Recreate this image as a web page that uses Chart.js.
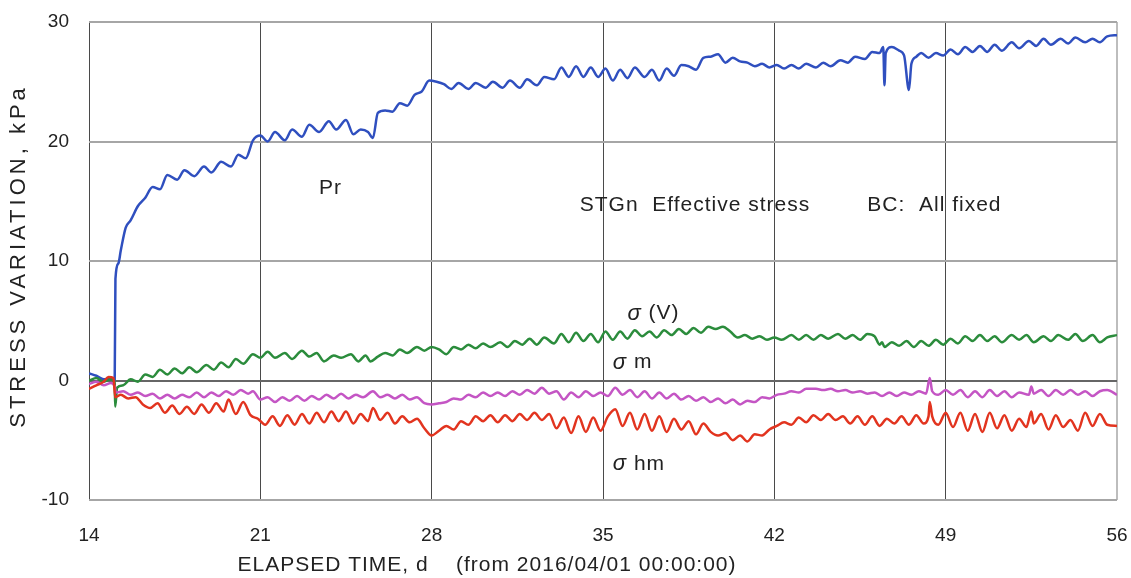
<!DOCTYPE html>
<html>
<head>
<meta charset="utf-8">
<script src="https://cdn.jsdelivr.net/npm/chart.js@4.4.0/dist/chart.umd.min.js"></script>
<style>
  html, body { margin: 0; padding: 0; background: #fff; }
</style>
</head>
<body>
<canvas id="stressChart" width="1131" height="578"></canvas>
<script>
// ---------------- DATA ----------------
// [elapsed day, kPa]
const pr = [[14,0.6],[14.3,0.4],[14.6,0.1],[14.9,0.2],[15.05,0.1],[15.08,8.5],[15.2,9.8],[15.3,10.9],[15.5,12.8],[15.7,13.4],
  [16.0,14.6],[16.3,15.3],[16.6,16.2],[16.9,16.0],[17.2,17.2],[17.6,16.8],[17.9,17.6],[18.3,17.1],[18.7,17.9],[19.0,17.4],
  [19.4,18.3],[19.8,17.9],[20.1,18.9],[20.4,18.6],[20.7,20.1],[21.0,20.5],[21.3,20.0],[21.6,20.8],[22.0,20.1],[22.3,21.0],
  [22.7,20.4],[23.0,21.4],[23.4,20.8],[23.8,21.7],[24.1,21.0],[24.5,21.8],[24.8,20.6],[25.1,21.0],[25.4,20.8],[25.6,20.3],
  [25.8,22.4],[26.1,22.6],[26.4,22.5],[26.7,23.2],[27.0,23.0],[27.3,23.9],[27.6,24.2],[27.9,25.1],[28.2,25.0],[28.5,24.8],
  [28.8,24.4],[29.1,24.9],[29.5,24.4],[29.8,24.9],[30.2,24.5],[30.5,25.0],[30.9,24.5],[31.2,25.1],[31.6,24.5],[31.9,25.2],
  [32.3,24.7],[32.6,25.4],[33.0,25.2],[33.3,26.2],[33.6,25.4],[33.9,26.3],[34.2,25.4],[34.5,26.2],[34.8,25.4],[35.1,26.1],
  [35.4,25.1],[35.7,26.0],[36.0,25.3],[36.3,26.2],[36.7,25.4],[37.0,26.0],[37.3,25.1],[37.6,26.1],[37.9,25.5],[38.2,26.4],
  [38.5,26.3],[38.8,26.0],[39.1,27.0],[39.4,27.1],[39.7,27.3],[40.0,26.6],[40.3,27.0],[40.6,26.7],[40.9,26.6],[41.2,26.3],
  [41.5,26.5],[41.8,26.2],[42.1,26.4],[42.4,26.1],[42.7,26.4],[43.0,26.1],[43.3,26.5],[43.7,26.2],[44.0,26.6],[44.3,26.3],
  [44.7,26.8],[45.0,26.6],[45.3,27.1],[45.7,26.9],[46.0,27.5],[46.3,27.4],[46.45,27.9],[46.5,24.7],[46.55,27.4],[46.8,27.9],
  [47.1,27.6],[47.3,27.2],[47.5,24.3],[47.6,26.5],[47.8,27.1],[48.0,27.4],[48.3,27.0],[48.6,27.4],[48.9,27.2],[49.2,27.7],
  [49.5,27.3],[49.8,27.9],[50.1,27.5],[50.4,28.0],[50.7,27.5],[51.0,28.1],[51.3,27.6],[51.7,28.3],[52.0,27.8],[52.4,28.4],
  [52.7,28.0],[53.0,28.6],[53.3,28.1],[53.7,28.6],[54.0,28.2],[54.3,28.7],[54.7,28.3],[55.0,28.6],[55.3,28.3],[55.6,28.8],[56.0,28.9]];

const sigV = [[14,0.0],[14.3,0.2],[14.6,-0.1],[14.9,0.1],[15.05,-0.2],[15.07,-2.2],[15.15,-0.6],[15.4,-0.4],[15.7,0.1],[16.0,-0.1],
  [16.3,0.5],[16.6,0.3],[16.9,0.9],[17.2,0.5],[17.5,1.0],[17.8,0.6],[18.1,1.1],[18.4,0.7],[18.8,1.3],[19.1,0.9],
  [19.4,1.5],[19.7,1.1],[20.0,1.8],[20.3,1.4],[20.7,2.2],[21.0,1.9],[21.3,2.4],[21.6,1.9],[22.0,2.3],[22.3,1.8],
  [22.7,2.5],[23.0,2.0],[23.3,2.3],[23.6,1.6],[24.0,2.1],[24.3,1.9],[24.7,2.2],[25.0,1.6],[25.3,2.1],[25.5,1.6],
  [25.8,2.0],[26.1,2.3],[26.4,2.1],[26.7,2.6],[27.0,2.3],[27.4,2.8],[27.7,2.5],[28.0,2.8],[28.3,2.6],[28.6,2.2],
  [28.9,2.8],[29.2,2.6],[29.5,3.0],[29.8,2.7],[30.1,3.1],[30.4,2.8],[30.8,3.2],[31.1,2.8],[31.4,3.3],[31.7,3.0],
  [32.0,3.5],[32.3,3.0],[32.6,3.6],[33.0,3.1],[33.3,3.9],[33.6,3.2],[33.9,4.0],[34.2,3.3],[34.5,3.9],[34.8,3.2],
  [35.1,4.1],[35.4,3.4],[35.7,4.1],[36.0,3.5],[36.3,4.2],[36.6,3.7],[36.9,4.1],[37.2,3.6],[37.5,4.2],[37.8,3.8],
  [38.1,4.3],[38.4,3.9],[38.7,4.4],[39.0,4.0],[39.3,4.5],[39.6,4.3],[39.9,4.5],[40.2,4.1],[40.5,3.6],[40.8,3.8],
  [41.1,3.5],[41.4,3.7],[41.7,3.4],[42.0,3.6],[42.3,3.4],[42.7,3.8],[43.0,3.4],[43.3,3.8],[43.6,3.4],[43.9,3.8],
  [44.2,3.5],[44.6,3.9],[44.9,3.5],[45.2,3.8],[45.5,3.4],[45.8,3.9],[46.1,3.7],[46.3,3.0],[46.4,3.2],[46.5,2.8],
  [46.8,3.2],[47.1,2.9],[47.4,3.3],[47.7,2.8],[48.0,3.3],[48.3,2.9],[48.6,3.4],[48.9,3.0],[49.2,3.5],[49.5,3.1],
  [49.8,3.7],[50.1,3.3],[50.4,3.8],[50.7,3.3],[51.0,3.7],[51.3,3.2],[51.7,3.8],[52.0,3.4],[52.3,3.8],[52.6,3.2],
  [53.0,3.7],[53.3,3.3],[53.6,3.8],[54.0,3.4],[54.3,3.9],[54.6,3.3],[55.0,3.8],[55.3,3.2],[55.6,3.6],[56.0,3.8]];

const sigM = [[14,-0.3],[14.3,-0.1],[14.6,-0.4],[14.9,-0.2],[15.05,-0.5],[15.1,-1.0],[15.4,-0.9],[15.7,-1.2],[16.0,-1.0],[16.3,-1.3],
  [16.6,-1.1],[16.9,-1.5],[17.2,-1.2],[17.5,-1.5],[17.8,-1.2],[18.1,-1.4],[18.4,-1.0],[18.7,-1.4],[19.0,-1.0],[19.3,-1.3],
  [19.6,-0.9],[19.9,-1.2],[20.2,-0.8],[20.5,-1.1],[20.7,-0.9],[21.0,-1.6],[21.3,-1.4],[21.6,-1.8],[21.9,-1.4],[22.2,-1.7],
  [22.5,-1.3],[22.8,-1.7],[23.1,-1.3],[23.4,-1.6],[23.7,-1.2],[24.0,-1.5],[24.3,-1.1],[24.6,-1.5],[24.9,-1.2],[25.2,-1.4],
  [25.6,-0.9],[25.9,-1.4],[26.2,-1.2],[26.5,-1.5],[26.8,-1.2],[27.1,-1.6],[27.4,-1.4],[27.7,-1.9],[28.0,-2.0],[28.3,-1.9],
  [28.6,-1.8],[28.9,-1.5],[29.2,-1.6],[29.5,-1.2],[29.8,-1.4],[30.1,-1.0],[30.4,-1.3],[30.7,-1.0],[31.0,-1.3],[31.3,-0.9],
  [31.6,-1.2],[31.9,-0.8],[32.2,-1.1],[32.5,-0.6],[32.8,-1.1],[33.1,-0.9],[33.4,-1.6],[33.7,-1.0],[34.0,-1.4],[34.3,-0.9],
  [34.6,-1.3],[34.9,-1.0],[35.2,-1.3],[35.5,-0.6],[35.8,-1.2],[36.1,-0.8],[36.4,-1.4],[36.7,-0.9],[37.0,-1.5],[37.3,-1.0],
  [37.6,-1.5],[37.9,-1.1],[38.2,-1.6],[38.5,-1.3],[38.8,-1.7],[39.1,-1.4],[39.4,-1.8],[39.7,-1.5],[40.0,-1.9],[40.3,-1.6],
  [40.6,-2.0],[40.9,-1.7],[41.2,-1.8],[41.5,-1.4],[41.8,-1.5],[42.1,-1.2],[42.4,-1.1],[42.7,-0.9],[43.0,-1.0],[43.3,-0.7],
  [43.7,-0.7],[44.0,-0.8],[44.3,-0.7],[44.6,-0.9],[44.9,-0.8],[45.2,-1.0],[45.5,-0.9],[45.8,-1.1],[46.1,-1.0],[46.4,-1.3],
  [46.7,-1.0],[47.0,-1.3],[47.3,-1.0],[47.6,-1.2],[47.9,-0.9],[48.2,-1.1],[48.35,0.2],[48.45,-0.9],[48.7,-1.2],[49.0,-0.8],
  [49.3,-1.2],[49.6,-0.8],[49.9,-1.4],[50.2,-0.9],[50.5,-1.4],[50.8,-0.8],[51.1,-1.3],[51.4,-0.9],[51.7,-1.4],[52.0,-1.0],
  [52.4,-1.2],[52.5,-0.5],[52.6,-1.1],[52.9,-0.8],[53.2,-1.3],[53.5,-0.8],[53.8,-1.2],[54.1,-0.8],[54.4,-1.2],[54.7,-0.9],
  [55.0,-1.3],[55.3,-0.9],[55.6,-0.8],[56.0,-1.2]];

const sigHm = [[14,-0.7],[14.3,-0.4],[14.6,-0.1],[14.8,0.3],[15.0,0.2],[15.07,-1.4],[15.3,-1.2],[15.6,-1.5],[15.9,-1.4],[16.2,-2.0],
  [16.5,-2.3],[16.8,-1.9],[17.1,-2.7],[17.4,-2.1],[17.7,-2.8],[18.0,-2.2],[18.3,-2.8],[18.6,-2.0],[18.9,-2.7],[19.2,-1.9],
  [19.5,-2.6],[19.7,-1.6],[20.0,-2.8],[20.3,-1.8],[20.6,-2.9],[20.9,-3.2],[21.2,-3.7],[21.5,-3.0],[21.8,-3.8],[22.1,-2.9],
  [22.4,-3.7],[22.7,-2.8],[23.0,-3.6],[23.3,-2.7],[23.6,-3.5],[23.9,-2.6],[24.2,-3.4],[24.5,-2.6],[24.8,-3.6],[25.1,-2.8],
  [25.4,-3.4],[25.6,-2.3],[25.9,-3.3],[26.2,-2.7],[26.5,-3.6],[26.8,-3.0],[27.1,-3.5],[27.4,-3.2],[27.7,-4.0],[28.0,-4.6],
  [28.3,-4.2],[28.6,-3.8],[28.9,-4.1],[29.2,-3.4],[29.5,-3.7],[29.8,-3.0],[30.1,-3.4],[30.4,-2.9],[30.7,-3.5],[31.0,-2.9],
  [31.3,-3.4],[31.6,-2.8],[31.9,-3.3],[32.2,-2.7],[32.5,-3.3],[32.8,-2.8],[33.1,-4.0],[33.4,-3.1],[33.7,-4.4],[34.0,-3.0],
  [34.3,-4.3],[34.6,-3.1],[34.9,-4.2],[35.2,-3.0],[35.5,-2.4],[35.8,-3.8],[36.1,-2.7],[36.4,-4.1],[36.7,-2.8],[37.0,-4.2],
  [37.3,-3.0],[37.6,-4.3],[37.9,-3.2],[38.2,-4.1],[38.5,-3.4],[38.8,-4.5],[39.1,-3.6],[39.4,-4.3],[39.7,-4.6],[40.0,-4.4],
  [40.3,-5.0],[40.6,-4.6],[40.9,-5.1],[41.2,-4.5],[41.5,-4.6],[41.8,-4.1],[42.1,-3.8],[42.4,-3.5],[42.7,-3.7],[43.0,-3.1],
  [43.3,-3.5],[43.6,-2.9],[43.9,-3.3],[44.2,-2.8],[44.5,-3.3],[44.8,-3.0],[45.1,-3.6],[45.4,-3.0],[45.7,-3.7],[46.0,-3.0],
  [46.3,-3.8],[46.6,-3.2],[46.9,-3.6],[47.2,-3.0],[47.5,-3.7],[47.8,-2.9],[48.1,-3.6],[48.3,-3.0],[48.35,-1.8],[48.45,-3.0],
  [48.7,-3.7],[49.0,-2.7],[49.3,-3.9],[49.6,-2.7],[49.9,-4.2],[50.2,-2.8],[50.5,-4.3],[50.8,-2.7],[51.1,-4.0],[51.4,-2.9],
  [51.7,-4.2],[52.0,-3.2],[52.3,-3.9],[52.5,-2.6],[52.6,-3.6],[52.9,-2.8],[53.2,-4.1],[53.5,-2.9],[53.8,-3.9],[54.1,-3.3],
  [54.4,-4.2],[54.7,-2.7],[55.0,-3.8],[55.3,-2.8],[55.6,-3.7],[56.0,-3.8]];

const dayTicks = [14, 21, 28, 35, 42, 49, 56];
const kpaTicks = [-10, 0, 10, 20, 30];

// text labels placed in data coordinates
const notes = [
  { text: "Pr", day: 23.4, kpa: 16.1 },
  { text: "STGn  Effective stress", day: 34.05, kpa: 14.7 },
  { text: "BC:  All fixed", day: 45.8, kpa: 14.7 }
];
const sigmaNotes = [
  { rest: " (V)", day: 36.0, kpa: 5.6 },
  { rest: " m", day: 35.4, kpa: 1.5 },
  { rest: " hm", day: 35.4, kpa: -7.0 }
];

const FONT = '"Liberation Sans", Arial, sans-serif';
const toXY = arr => arr.map(p => ({ x: p[0], y: p[1] }));

// ---------------- TEXT PLUGIN ----------------
const textPlugin = {
  id: "textPlugin",
  afterDraw(chart) {
    const { ctx, scales } = chart;
    ctx.save();
    ctx.fillStyle = "#222";
    ctx.textBaseline = "middle";
    ctx.textAlign = "left";
    ctx.letterSpacing = "1px";
    ctx.font = "21px " + FONT;
    notes.forEach(n => {
      ctx.fillText(n.text, scales.x.getPixelForValue(n.day), scales.y.getPixelForValue(n.kpa));
    });
    sigmaNotes.forEach(n => {
      const x = scales.x.getPixelForValue(n.day);
      const y = scales.y.getPixelForValue(n.kpa);
      ctx.font = "italic 22px " + FONT;
      ctx.fillText("σ", x, y);
      const w = ctx.measureText("σ").width;
      ctx.font = "21px " + FONT;
      ctx.fillText(n.rest, x + w, y);
    });
    // x axis title
    ctx.font = "21px " + FONT;
    ctx.textAlign = "center";
    ctx.fillText("ELAPSED TIME, d    (from 2016/04/01 00:00:00)", 487, 565);
    // y axis title
    ctx.translate(19, 256);
    ctx.rotate(-Math.PI / 2);
    ctx.letterSpacing = "4px";
    ctx.font = "22px " + FONT;
    ctx.fillText("STRESS VARIATION, kPa", 0, 0);
    ctx.restore();
  }
};

const bgPlugin = {
  id: "bg",
  beforeDraw(chart) {
    const c = chart.ctx;
    c.save();
    c.fillStyle = "#fff";
    c.fillRect(0, 0, chart.width, chart.height);
    c.restore();
  }
};

const lineSet = (label, data, color) => ({
  label, data: toXY(data),
  borderColor: color, borderWidth: 2.5,
  pointRadius: 0, fill: false,
  cubicInterpolationMode: "monotone"
});

// ---------------- CHART ----------------
new Chart(document.getElementById("stressChart"), {
  type: "line",
  data: {
    datasets: [
      lineSet("σhm", sigHm, "#e2341f"),
      lineSet("σm", sigM, "#c455c4"),
      lineSet("σ(V)", sigV, "#2b8c3c"),
      lineSet("Pr", pr, "#2f4fbf")
    ]
  },
  options: {
    responsive: false,
    animation: false,
    layout: { padding: { top: 22, right: 14, left: 0, bottom: 0 } },
    plugins: { legend: { display: false }, tooltip: { enabled: false } },
    scales: {
      x: {
        type: "linear",
        min: 14, max: 56,
        afterBuildTicks: s => { s.ticks = dayTicks.map(v => ({ value: v })); },
        afterFit: s => { s.height = 78; s.paddingLeft = 0; s.paddingRight = 0; },
        ticks: { color: "#222", font: { family: FONT, size: 19 }, padding: 24, maxRotation: 0 },
        grid: {
          color: c => c.tick && c.tick.value === 56 ? "#bdbdbd" : "#4a4a4a",
          lineWidth: c => c.tick && c.tick.value === 56 ? 2 : 1,
          drawTicks: false
        },
        border: { display: false }
      },
      y: {
        min: -10, max: 30,
        afterBuildTicks: s => { s.ticks = kpaTicks.map(v => ({ value: v })); },
        afterFit: s => { s.width = 89; s.paddingTop = 0; s.paddingBottom = 0; },
        ticks: { color: "#222", font: { family: FONT, size: 19 }, padding: 20 },
        grid: {
          color: c => c.tick && c.tick.value === 0 ? "#666" : "#a6a6a6",
          lineWidth: 2,
          drawTicks: false
        },
        border: { display: false }
      }
    }
  },
  plugins: [bgPlugin, textPlugin]
});
</script>
</body>
</html>
